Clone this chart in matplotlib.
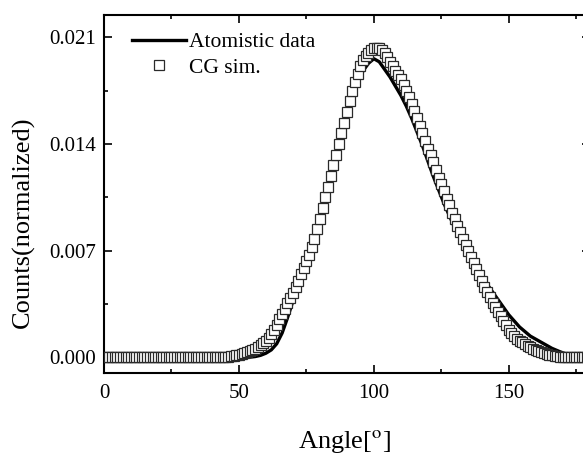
import numpy as np
import matplotlib
matplotlib.use("Agg")
import matplotlib.pyplot as plt
from matplotlib.ticker import MultipleLocator, FixedLocator

plt.rcParams['font.family'] = ['Liberation Serif', 'DejaVu Serif']
plt.rcParams['mathtext.fontset'] = 'stix'

# ---- data ----
cg_angle = list(range(0, 181))
cg_counts = (
    [0.0] * 45 +
    [0.00003, 0.00005, 0.00008, 0.00011, 0.00014,            # 45-49
     0.00018, 0.00022, 0.00027, 0.00033, 0.00040,            # 50-54
     0.00048, 0.00057, 0.00067, 0.00079, 0.00093,            # 55-59
     0.00110, 0.00130, 0.00155, 0.00183, 0.00215,            # 60-64
     0.00250, 0.00285, 0.00320, 0.00355, 0.00390,            # 65-69
     0.00425, 0.00460, 0.00500, 0.00545, 0.00590,            # 70-74
     0.00630, 0.00670, 0.00725, 0.00780, 0.00840,            # 75-79
     0.00910, 0.00980, 0.01050, 0.01120, 0.01190,            # 80-84
     0.01260, 0.01330, 0.01400, 0.01470, 0.01540,            # 85-89
     0.01610, 0.01680, 0.01750, 0.01810, 0.01860,            # 90-94
     0.01910, 0.01950, 0.01980, 0.02000, 0.02020,            # 95-99
     0.02030, 0.02030, 0.02030, 0.02020, 0.02000,            # 100-104
     0.01970, 0.01940, 0.01910, 0.01880, 0.01855,            # 105-109
     0.01830, 0.01790, 0.01750, 0.01710, 0.01660,            # 110-114
     0.01620, 0.01570, 0.01520, 0.01470, 0.01420,            # 115-119
     0.01370, 0.01330, 0.01280, 0.01230, 0.01180,            # 120-124
     0.01140, 0.01090, 0.01040, 0.01000, 0.00950,            # 125-129
     0.00910, 0.00860, 0.00820, 0.00780, 0.00740,            # 130-134
     0.00700, 0.00660, 0.00620, 0.00580, 0.00540,            # 135-139
     0.00500, 0.00460, 0.00430, 0.00400, 0.00360,            # 140-144
     0.00330, 0.00300, 0.00270, 0.00240, 0.00210,            # 145-149
     0.00180, 0.00160, 0.00140, 0.00120, 0.00110,            # 150-154
     0.00100, 0.00088, 0.00078, 0.00068, 0.00058,            # 155-159
     0.00049, 0.00041, 0.00034, 0.00028, 0.00023,            # 160-164
     0.00018, 0.00014, 0.00011, 0.00008, 0.00006,            # 165-169
     0.00004, 0.00003, 0.00002, 0.00001] +                   # 170-173
    [0.0] * 7                                                # 174-180
)

atom_angle = list(range(0, 181, 2))
atom_counts = (
    [0.0] * 27 +                                             # 0-52
    [0.00002, 0.00006, 0.00014, 0.00028, 0.00050,            # 54-62
     0.00090, 0.00160, 0.00260, 0.00370, 0.00480,            # 64-72
     0.00600, 0.00680, 0.00780, 0.00910, 0.01050,            # 74-82
     0.01190, 0.01330, 0.01460, 0.01590, 0.01710,            # 84-92
     0.01810, 0.01880, 0.01930, 0.01960, 0.01940,            # 94-102
     0.01890, 0.01840, 0.01780, 0.01720, 0.01650,            # 104-112
     0.01570, 0.01480, 0.01390, 0.01290, 0.01190,            # 114-122
     0.01100, 0.01010, 0.00930, 0.00850, 0.00780,            # 124-132
     0.00710, 0.00650, 0.00590, 0.00540, 0.00480,            # 134-142
     0.00430, 0.00380, 0.00330, 0.00280, 0.00240,            # 144-152
     0.00200, 0.00170, 0.00140, 0.00120, 0.00100,            # 154-162
     0.00080, 0.00060, 0.00045, 0.00030, 0.00020,            # 164-172
     0.00015, 0.00010, 0.00005, 0.0]                         # 174-180
)

x_ticks = [0, 50, 100, 150]
y_ticks = [0.000, 0.007, 0.014, 0.021]
y_tick_labels = ['0.000', '0.007', '0.014', '0.021']

# ---- figure ----
fig = plt.figure(figsize=(5.83, 4.58), dpi=100)
ax = fig.add_axes([0.1784, 0.1862, 0.8331, 0.7821])

ax.plot(atom_angle, atom_counts, color='black', lw=2.4, zorder=2,
        label='Atomistic data')
ax.plot(cg_angle, cg_counts, ls='none', marker='s', ms=7,
        mfc='white', mec='#2a2a2a', mew=0.9, zorder=3, label='CG sim.')

ax.set_xlim(0, 180)
ax.set_ylim(-0.001, 0.0225)

ax.xaxis.set_major_locator(FixedLocator(x_ticks))
ax.xaxis.set_minor_locator(MultipleLocator(25))
ax.set_yticks(y_ticks)
ax.set_yticklabels(y_tick_labels)
ax.yaxis.set_minor_locator(MultipleLocator(0.0035))

ax.tick_params(which='both', direction='in', top=True, right=True,
               width=1.2, labelsize=15)
ax.tick_params(which='major', length=5.5)
ax.tick_params(which='minor', length=2.7)
ax.tick_params(axis='x', pad=8)
ax.tick_params(axis='y', pad=6)

for s in ax.spines.values():
    s.set_linewidth(1.5)

ax.set_ylabel('Counts(normalized)', fontsize=19)
ax.yaxis.set_label_coords(-0.142, 0.42)
ax.set_xlabel('Angle[$^{\\mathrm{o}}$]', fontsize=19)
ax.xaxis.set_label_coords(0.496, -0.155)

leg = ax.legend(loc='upper left', bbox_to_anchor=(0.057, 0.95),
                frameon=False, fontsize=15.5, handlelength=2.5,
                handletextpad=0.15, labelspacing=0.25,
                borderpad=0, borderaxespad=0)

fig.savefig('out.png', dpi=100)
